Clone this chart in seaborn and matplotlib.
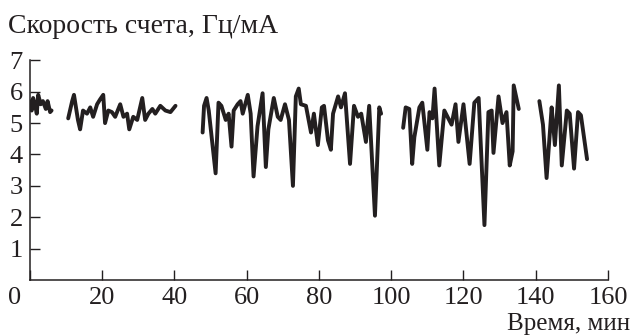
import pandas as pd
import seaborn as sns
import matplotlib.pyplot as plt

# segments of the count-rate record (time, min / rate, Hz/mA)
t1 = [0.0, 0.5, 0.9, 1.4, 1.9, 2.3, 3.0, 3.6, 4.4, 4.9, 5.6, 6.0]
r1 = [5.7, 5.4, 5.8, 5.6, 5.3, 5.9, 5.6, 5.7, 5.45, 5.7, 5.35, 5.4]

t2 = [10.6, 11.7, 12.2, 13.3, 13.9, 14.7, 15.8, 16.7, 17.5, 18.6, 19.4, 20.3,
      20.8, 21.7, 22.7, 23.6, 25.0, 25.9, 26.9, 27.5, 28.6, 29.7, 31.1, 31.9,
      32.8, 33.9, 34.7, 36.1, 37.5, 38.9, 40.3]
r2 = [5.15, 5.7, 5.9, 5.1, 4.8, 5.4, 5.3, 5.5, 5.2, 5.6, 5.75, 5.9,
      5.0, 5.4, 5.35, 5.2, 5.6, 5.2, 5.3, 4.8, 5.2, 5.1, 5.8, 5.1,
      5.3, 5.45, 5.3, 5.55, 5.4, 5.35, 5.55]

t3 = [47.8, 48.2, 48.9, 49.5, 51.4, 52.2, 53.0, 54.2, 55.0, 55.8, 56.4, 57.5,
      58.3, 58.9, 60.3, 61.1, 61.9, 63.0, 64.4, 65.3, 66.0, 67.5, 68.6, 69.4,
      70.6, 71.7, 72.8, 73.6, 74.4, 75.0, 76.4, 77.8, 78.6, 79.7, 80.8, 81.4,
      82.5, 83.3, 83.9, 85.3, 86.1, 87.2, 88.6, 89.7, 90.8, 91.7, 93.0, 93.9,
      95.5, 96.7, 97.2]
r3 = [4.7, 5.55, 5.8, 5.4, 3.4, 5.65, 5.55, 5.1, 5.3, 4.25, 5.4, 5.6,
      5.7, 5.3, 5.9, 5.3, 3.3, 4.9, 5.95, 3.6, 4.8, 5.8, 5.2, 5.1,
      5.6, 5.1, 3.0, 5.85, 6.1, 5.6, 5.55, 4.7, 5.3, 4.3, 5.5, 5.55,
      4.45, 4.15, 5.3, 5.85, 5.5, 5.95, 3.7, 5.55, 5.2, 5.3, 4.4, 5.55,
      2.05, 5.5, 5.3]

t4 = [103.3, 104.0, 105.0, 105.8, 106.4, 107.8, 108.6, 110.0, 110.6, 111.4,
      112.0, 113.3, 114.7, 115.8, 116.7, 117.8, 118.6, 120.0, 121.7, 123.0,
      124.2, 125.8, 126.9, 127.8, 128.3, 129.7, 130.8, 131.9, 132.8, 133.6,
      133.9, 135.3]
r4 = [4.85, 5.5, 5.45, 3.7, 4.55, 5.5, 5.65, 4.15, 5.35, 5.15,
      6.1, 3.65, 5.4, 5.15, 4.95, 5.6, 4.4, 5.6, 3.7, 5.65,
      5.8, 1.75, 5.35, 5.4, 4.05, 5.85, 5.0, 5.35, 3.65, 4.1,
      6.2, 5.45]

t5 = [141.0, 142.0, 143.0, 144.0, 144.4, 145.3, 146.4, 147.2, 148.6, 149.4,
      150.6, 151.7, 152.5, 154.2]
r5 = [5.7, 4.95, 3.25, 4.85, 5.5, 4.3, 6.2, 3.65, 5.4, 5.3,
      3.55, 5.35, 5.25, 3.85]

x_ticks = [20, 40, 60, 80, 100, 120, 140, 160]
y_ticks = [1, 2, 3, 4, 5, 6, 7]

frames = []
for i, (t, r) in enumerate([(t1, r1), (t2, r2), (t3, r3), (t4, r4), (t5, r5)]):
    frames.append(pd.DataFrame({'t': t, 'rate': r, 'seg': i}))
df = pd.concat(frames, ignore_index=True)

sns.set_style("ticks")
plt.rcParams['font.family'] = ['Liberation Serif', 'DejaVu Serif']

ink = '#231f20'
fig = plt.figure(figsize=(6.36, 3.35), dpi=100)
ax = fig.add_axes([0.047, 0.164, 0.909, 0.656])

sns.lineplot(data=df, x='t', y='rate', units='seg', estimator=None,
             color=ink, linewidth=2.8, sort=False, ax=ax)

ax.set_xlim(0, 160)
ax.set_ylim(0, 7)
ax.set_xticks([0] + x_ticks)
ax.set_xticklabels([''] + [str(v) for v in x_ticks])
ax.set_yticks(y_ticks)
ax.set_yticklabels([str(v) for v in y_ticks])
ax.tick_params(direction='in', length=7, width=1, color=ink,
               labelsize=19, pad=5, labelcolor=ink)
ax.set_xlabel('')
ax.set_ylabel('')
sns.despine(ax=ax)
for s in ['left', 'bottom']:
    ax.spines[s].set_linewidth(1.1)
    ax.spines[s].set_color(ink)

ax.annotate('0', xy=(0, 0), xycoords='axes fraction', xytext=(-15, -18),
            textcoords='offset pixels', ha='center', va='center',
            fontsize=19, color=ink)

fig.text(8 / 636, 1 - 33 / 335, 'Скорость счета, Гц/мА', ha='left',
         va='baseline', fontsize=20, color=ink)
fig.text(630 / 636, 1 - 330 / 335, 'Время, мин', ha='right', va='baseline',
         fontsize=18, color=ink)

fig.savefig('out.png', dpi=100)
